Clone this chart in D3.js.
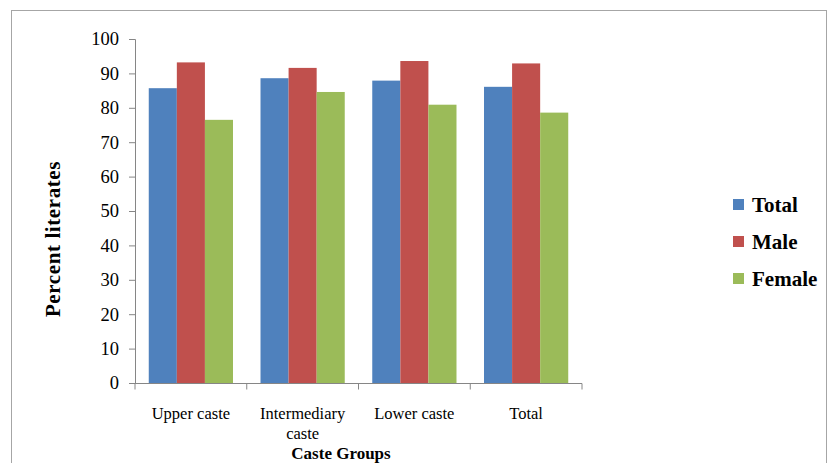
<!DOCTYPE html>
<html><head><meta charset="utf-8">
<script src="https://cdn.jsdelivr.net/npm/d3@7"></script>
<style>body{margin:0;background:#fff}svg{display:block}</style>
</head><body>
<svg id="c" width="828" height="463"></svg>
<script>
const categories = [["Upper caste"], ["Intermediary", "caste"], ["Lower caste"], ["Total"]];
const seriesNames = ["Total", "Male", "Female"];
const totalVals = [85.7, 88.6, 87.9, 86.1];
const maleVals = [93.2, 91.6, 93.6, 92.9];
const femaleVals = [76.5, 84.6, 80.9, 78.6];
const yTicks = [0, 10, 20, 30, 40, 50, 60, 70, 80, 90, 100];
const colors = ["#4F81BD", "#C0504D", "#9BBB59"];

const series = [totalVals, maleVals, femaleVals];
const svg = d3.select("#c");
const font = "'Liberation Serif', 'Times New Roman', serif";

svg.append("rect").attr("x", 11.5).attr("y", 10.5).attr("width", 815).attr("height", 470)
  .attr("fill", "none").attr("stroke", "#a6a6a6").attr("stroke-width", 1);

const x0 = d3.scaleBand().domain(d3.range(categories.length)).range([135, 582]).paddingInner(0).paddingOuter(0);
const x1 = d3.scaleBand().domain(d3.range(seriesNames.length)).range([0, x0.bandwidth()]).paddingInner(0).paddingOuter(0.49);
const y = d3.scaleLinear().domain([0, 100]).range([383, 39]);

// bars
categories.forEach((c, i) => {
  const g = svg.append("g").attr("transform", `translate(${x0(i)},0)`);
  series.forEach((s, j) => {
    g.append("rect").attr("x", x1(j)).attr("y", y(s[i])).attr("width", x1.bandwidth())
      .attr("height", y(0) - y(s[i])).attr("fill", colors[j]);
  });
});

// y axis
const ya = svg.append("g").attr("transform", "translate(135,0)")
  .call(d3.axisLeft(y).tickValues(yTicks).tickSize(6).tickPadding(10));
ya.select(".domain").attr("stroke", "#868686");
ya.selectAll(".tick line").attr("stroke", "#868686");
ya.selectAll("text").attr("font-family", font).attr("font-size", 18.5).attr("fill", "#000");

// x axis
const xa = svg.append("g").attr("transform", "translate(0,383.5)");
xa.append("line").attr("x1", 135).attr("x2", 582).attr("stroke", "#868686");
d3.range(categories.length + 1).forEach(i => {
  const xx = i < categories.length ? x0(i) : x0.range()[1];
  xa.append("line").attr("x1", xx).attr("x2", xx).attr("y1", 0).attr("y2", 6).attr("stroke", "#868686");
});
categories.forEach((c, i) => {
  const t = xa.append("text").attr("x", x0(i) + x0.bandwidth() / 2).attr("y", 35)
    .attr("text-anchor", "middle").attr("font-family", font).attr("font-size", 16.5).attr("fill", "#000");
  c.forEach((line, k) => t.append("tspan").attr("x", x0(i) + x0.bandwidth() / 2).attr("dy", k === 0 ? 0 : 20.5).text(line));
});

// axis titles
svg.append("text").attr("transform", "translate(60,239) rotate(-90)").attr("text-anchor", "middle")
  .attr("font-family", font).attr("font-size", 21).attr("font-weight", "bold").attr("letter-spacing", 0.6)
  .text("Percent  literates");
svg.append("text").attr("x", 341).attr("y", 459).attr("text-anchor", "middle")
  .attr("font-family", font).attr("font-size", 17).attr("font-weight", "bold").text("Caste Groups");

// legend
const lg = svg.append("g");
seriesNames.forEach((n, j) => {
  const yy = 204.5 + j * 37;
  lg.append("rect").attr("x", 733).attr("y", yy - 5.5).attr("width", 11).attr("height", 11).attr("fill", colors[j]);
  lg.append("text").attr("x", 752).attr("y", yy + 7.5).attr("font-family", font).attr("font-size", 21)
    .attr("font-weight", "bold").text(n);
});
</script>
</body></html>
